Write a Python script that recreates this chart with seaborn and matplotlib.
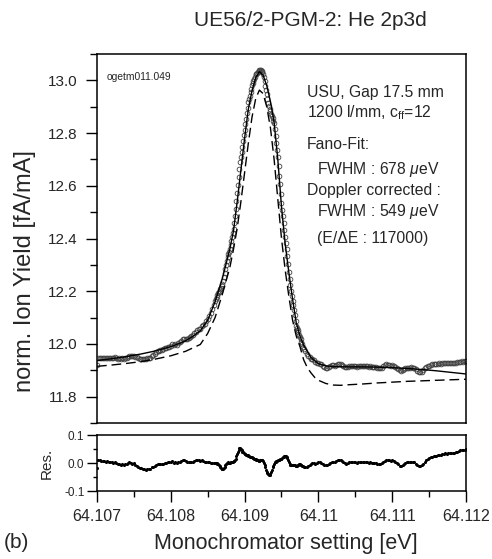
import numpy as np
import matplotlib
matplotlib.use("Agg")
import matplotlib.pyplot as plt
from matplotlib.ticker import MultipleLocator, FixedLocator, FixedFormatter
import seaborn as sns

# scan positions in micro-eV above 64.107 eV (finer steps across the line)
E0 = 64.107
scan_uev = list(range(0, 1601, 20)) + list(range(1610, 2801, 10)) + list(range(2820, 5001, 20))

# measured ion yield [fA/mA]
ion_yield = [
    11.919, 11.947, 11.948, 11.946, 11.948, 11.947, 11.945, 11.948, 11.946, 11.947,
    11.946, 11.945, 11.949, 11.945, 11.944, 11.946, 11.943, 11.946, 11.943, 11.946,
    11.948, 11.952, 11.956, 11.956, 11.954, 11.956, 11.952, 11.949, 11.946, 11.944,
    11.943, 11.941, 11.941, 11.942, 11.945, 11.948, 11.948, 11.954, 11.959, 11.963,
    11.968, 11.972, 11.974, 11.977, 11.976, 11.980, 11.985, 11.985, 11.990, 11.990,
    11.994, 11.998, 11.995, 11.998, 11.997, 12.002, 12.007, 12.013, 12.018, 12.019,
    12.020, 12.019, 12.021, 12.027, 12.029, 12.032, 12.040, 12.047, 12.054, 12.055,
    12.056, 12.068, 12.073, 12.077, 12.086, 12.094, 12.106, 12.118, 12.132, 12.147,
    12.161,
    # 10 ueV steps
    12.170, 12.178, 12.185, 12.192, 12.197, 12.202, 12.207, 12.213, 12.220, 12.227,
    12.239, 12.254, 12.270, 12.286, 12.301, 12.315, 12.328, 12.340, 12.350, 12.360,
    12.376, 12.391, 12.406, 12.421, 12.436, 12.460, 12.485, 12.512, 12.542, 12.572,
    12.604, 12.635, 12.664, 12.690, 12.711, 12.730, 12.749, 12.770, 12.791, 12.813,
    12.833, 12.854, 12.875, 12.895, 12.916, 12.928, 12.941, 12.955, 12.968, 12.981,
    12.989, 12.998, 13.006, 13.014, 13.023, 13.026, 13.029, 13.033, 13.036, 13.041,
    13.039, 13.039, 13.037, 13.033, 13.026, 13.012, 12.996, 12.980, 12.964, 12.949,
    12.931, 12.915, 12.901, 12.890, 12.882, 12.872, 12.864, 12.856, 12.847, 12.837,
    12.814, 12.789, 12.763, 12.736, 12.709, 12.674, 12.639, 12.605, 12.570, 12.536,
    12.510, 12.484, 12.458, 12.432, 12.405, 12.383, 12.359, 12.333, 12.304, 12.274,
    12.248, 12.224, 12.202, 12.182, 12.163, 12.146, 12.128, 12.108, 12.088, 12.069,
    12.060, 12.052, 12.044, 12.035, 12.025, 12.017, 12.008, 11.999, 11.990, 11.982,
    # 20 ueV steps
    11.972, 11.963, 11.955, 11.949, 11.944, 11.942, 11.939, 11.931, 11.929, 11.927,
    11.925, 11.923, 11.917, 11.913, 11.910, 11.910, 11.914, 11.916, 11.919, 11.919,
    11.918, 11.921, 11.924, 11.925, 11.924, 11.920, 11.916, 11.912, 11.911, 11.913,
    11.916, 11.918, 11.917, 11.918, 11.916, 11.914, 11.915, 11.915, 11.916, 11.915,
    11.917, 11.917, 11.916, 11.914, 11.915, 11.914, 11.913, 11.913, 11.911, 11.909,
    11.908, 11.908, 11.910, 11.915, 11.919, 11.922, 11.921, 11.919, 11.918, 11.919,
    11.917, 11.913, 11.909, 11.904, 11.900, 11.898, 11.901, 11.905, 11.907, 11.909,
    11.910, 11.910, 11.911, 11.908, 11.907, 11.903, 11.897, 11.894, 11.892, 11.895,
    11.900, 11.907, 11.912, 11.917, 11.918, 11.920, 11.922, 11.924, 11.922, 11.924,
    11.925, 11.927, 11.925, 11.927, 11.928, 11.928, 11.927, 11.928, 11.929, 11.928,
    11.926, 11.928, 11.929, 11.930, 11.931, 11.933, 11.934, 11.932, 11.935, 11.936,
]

# fit residuals
residual = [
    -0.018, 0.009, 0.010, 0.007, 0.008, 0.006, 0.004, 0.006, 0.003, 0.004,
    0.002, 0.000, 0.003, -0.001, -0.003, -0.002, -0.006, -0.004, -0.007, -0.005,
    -0.004, -0.001, 0.002, 0.001, -0.002, -0.001, -0.006, -0.010, -0.014, -0.017,
    -0.019, -0.022, -0.023, -0.024, -0.022, -0.020, -0.021, -0.016, -0.013, -0.010,
    -0.006, -0.004, -0.003, -0.002, -0.004, -0.002, 0.001, 0.000, 0.003, 0.002,
    0.004, 0.006, 0.001, 0.002, -0.001, 0.002, 0.005, 0.008, 0.011, 0.009,
    0.008, 0.004, 0.002, 0.005, 0.003, 0.003, 0.007, 0.010, 0.012, 0.009,
    0.006, 0.010, 0.007, 0.003, 0.004, 0.004, 0.002, 0.000, 0.000, 0.001,
    0.001,
    0.001, 0.000, -0.002, -0.004, -0.008, -0.012, -0.016, -0.019, -0.021, -0.023,
    -0.022, -0.018, -0.013, -0.008, -0.004, -0.001, 0.001, 0.002, 0.001, 0.000,
    0.002, 0.003, 0.004, 0.005, 0.006, 0.008, 0.011, 0.016, 0.024, 0.032,
    0.040, 0.047, 0.052, 0.054, 0.051, 0.046, 0.041, 0.038, 0.035, 0.033,
    0.031, 0.030, 0.029, 0.027, 0.026, 0.024, 0.023, 0.023, 0.022, 0.021,
    0.019, 0.018, 0.016, 0.014, 0.013, 0.011, 0.010, 0.009, 0.008, 0.008,
    0.009, 0.011, 0.012, 0.010, 0.006, 0.000, -0.008, -0.016, -0.024, -0.031,
    -0.037, -0.041, -0.043, -0.042, -0.038, -0.032, -0.024, -0.016, -0.009, -0.003,
    0.002, 0.005, 0.007, 0.008, 0.009, 0.010, 0.011, 0.013, 0.014, 0.016,
    0.018, 0.020, 0.022, 0.024, 0.025, 0.025, 0.023, 0.019, 0.012, 0.004,
    -0.002, -0.006, -0.008, -0.008, -0.007, -0.006, -0.006, -0.008, -0.010, -0.011,
    -0.010, -0.008, -0.006, -0.005, -0.005, -0.006, -0.008, -0.010, -0.012, -0.013,
    -0.014, -0.013, -0.012, -0.008, -0.004, -0.001, 0.000, -0.003, -0.001, 0.002,
    0.002, 0.001, -0.003, -0.006, -0.007, -0.006, -0.002, 0.001, 0.004, 0.005,
    0.004, 0.007, 0.010, 0.011, 0.010, 0.006, 0.002, -0.001, -0.002, 0.000,
    0.003, 0.005, 0.004, 0.005, 0.003, 0.001, 0.002, 0.002, 0.003, 0.002,
    0.004, 0.004, 0.003, 0.001, 0.002, 0.001, 0.000, 0.001, -0.001, -0.003,
    -0.004, -0.004, -0.001, 0.004, 0.008, 0.011, 0.010, 0.009, 0.008, 0.009,
    0.007, 0.004, 0.000, -0.005, -0.009, -0.010, -0.007, -0.003, 0.000, 0.002,
    0.003, 0.004, 0.005, 0.003, 0.002, -0.002, -0.007, -0.010, -0.011, -0.008,
    -0.002, 0.005, 0.011, 0.016, 0.018, 0.020, 0.023, 0.025, 0.024, 0.026,
    0.028, 0.030, 0.029, 0.031, 0.033, 0.034, 0.033, 0.035, 0.036, 0.036,
    0.035, 0.037, 0.039, 0.040, 0.042, 0.045, 0.046, 0.045, 0.048, 0.050,
]

# Fano fit (solid)
fit_uev = [0, 200, 400, 600, 800, 1000, 1100, 1200, 1300, 1400, 1500, 1600,
           1700, 1800, 1850, 1900, 1950, 2000, 2050, 2100, 2150, 2200, 2250,
           2300, 2350, 2400, 2450, 2500, 2550, 2600, 2650, 2700, 2750, 2800,
           2900, 3000, 3100, 3200, 3400, 3600, 3800, 4000, 4200, 4400, 4600,
           4800, 5000]
fano_fit = [11.937, 11.944, 11.952, 11.962, 11.974, 11.990, 12.000, 12.012,
            12.029, 12.050, 12.090, 12.160, 12.250, 12.360, 12.430, 12.540,
            12.660, 12.780, 12.890, 12.960, 13.010, 13.033, 13.020, 12.980,
            12.920, 12.840, 12.700, 12.520, 12.380, 12.270, 12.170, 12.080,
            12.030, 11.995, 11.948, 11.925, 11.917, 11.914, 11.913, 11.913,
            11.912, 11.910, 11.907, 11.903, 11.898, 11.892, 11.886]

# Doppler corrected profile (dashed)
doppler_uev = [0, 200, 400, 600, 800, 1000, 1200, 1400, 1500, 1600, 1700, 1800,
               1850, 1900, 1950, 2000, 2050, 2100, 2150, 2200, 2250, 2300, 2350,
               2400, 2450, 2500, 2550, 2600, 2650, 2700, 2750, 2800, 2850, 2900,
               2950, 3000, 3100, 3200, 3300, 3400, 3600, 3800, 4000, 4200, 4400,
               4600, 4800, 5000]
doppler_fit = [11.915, 11.920, 11.926, 11.933, 11.943, 11.955, 11.972, 11.998,
               12.040, 12.100, 12.190, 12.290, 12.360, 12.440, 12.540, 12.650,
               12.760, 12.860, 12.930, 12.963, 12.950, 12.900, 12.820, 12.700,
               12.550, 12.400, 12.280, 12.180, 12.090, 12.030, 11.990, 11.940,
               11.910, 11.890, 11.873, 11.862, 11.850, 11.844, 11.843, 11.845,
               11.848, 11.852, 11.855, 11.858, 11.860, 11.862, 11.864, 11.866]

x_ticks = [64.107, 64.108, 64.109, 64.110, 64.111, 64.112]
x_ticklabels = ["64.107", "64.108", "64.109", "64.11", "64.111", "64.112"]
y_ticks = [11.8, 12.0, 12.2, 12.4, 12.6, 12.8, 13.0]
res_ticks = [-0.1, 0.0, 0.1]
res_ticklabels = ["-0.1", "0.0", "0.1"]

energy = E0 + np.array(scan_uev) * 1e-6
fit_e = E0 + np.array(fit_uev) * 1e-6
dop_e = E0 + np.array(doppler_uev) * 1e-6

sns.set_style("ticks")
plt.rcParams['font.family'] = ['Liberation Sans', 'DejaVu Sans']
plt.rcParams['mathtext.fontset'] = 'custom'
plt.rcParams['mathtext.rm'] = 'Liberation Sans'
plt.rcParams['mathtext.it'] = 'Liberation Sans:italic'
plt.rcParams['axes.unicode_minus'] = False

W, H = 492, 559
fig = plt.figure(figsize=(W / 100, H / 100), dpi=100)
ax = fig.add_axes([97 / W, 1 - 423 / H, 369 / W, 369 / H])
rax = fig.add_axes([97 / W, 1 - 491 / H, 369 / W, 56 / H])

# main panel
sns.lineplot(x=energy, y=ion_yield, ax=ax, marker='o', linestyle='', markersize=3.4,
             markerfacecolor='none', markeredgecolor='0.25', markeredgewidth=0.6,
             estimator=None, sort=False, zorder=2)
sns.lineplot(x=fit_e, y=fano_fit, ax=ax, color='black', linewidth=1.0,
             estimator=None, sort=False, zorder=3)
sns.lineplot(x=dop_e, y=doppler_fit, ax=ax, color='black', linewidth=1.0,
             linestyle=(0, (7, 3.5)), estimator=None, sort=False, zorder=3)

ax.set_xlim(64.107, 64.112)
ax.set_ylim(11.7, 13.1)
ax.yaxis.set_major_locator(FixedLocator(y_ticks))
ax.yaxis.set_minor_locator(MultipleLocator(0.1))
ax.yaxis.set_major_formatter(FixedFormatter([f"{v:.1f}" for v in y_ticks]))
ax.tick_params(axis='x', which='both', bottom=False, labelbottom=False)
ax.tick_params(axis='y', which='major', length=8, width=1.0, direction='out',
               labelsize=11, pad=6, color='black')
ax.tick_params(axis='y', which='minor', length=5, width=1.0, direction='out', color='black')
ax.set_xlabel('')
ax.set_ylabel('')

# residual panel
sns.scatterplot(x=energy, y=residual, ax=rax, s=5, color='black', linewidth=0)
rax.set_xlim(64.107, 64.112)
rax.set_ylim(-0.1, 0.1)
rax.xaxis.set_major_locator(FixedLocator(x_ticks))
rax.xaxis.set_major_formatter(FixedFormatter(x_ticklabels))
rax.xaxis.set_minor_locator(MultipleLocator(0.0005))
rax.yaxis.set_major_locator(FixedLocator(res_ticks))
rax.yaxis.set_major_formatter(FixedFormatter(res_ticklabels))
rax.yaxis.set_minor_locator(FixedLocator([-0.05, 0.05]))
rax.tick_params(axis='x', which='major', length=8, width=1.0, labelsize=11.5,
                pad=5, color='black')
rax.tick_params(axis='x', which='minor', length=4, width=1.0, color='black')
rax.tick_params(axis='y', which='major', length=7, width=1.0, labelsize=8.5,
                pad=2, color='black')
rax.tick_params(axis='y', which='minor', length=3, width=1.0, color='black')
rax.set_xlabel('')
rax.set_ylabel('')

for a in (ax, rax):
    for s in a.spines.values():
        s.set_visible(True)
        s.set_color('black')
        s.set_linewidth(1.1)

# annotations
ax.text(0.027, 0.938, 'ogetm011.049', transform=ax.transAxes, fontsize=7.4,
        ha='left', va='center')
info = [
    (0.569, 0.897, 'USU, Gap 17.5 mm'),
    (0.569, 0.840, '1200 l/mm, c$_{\\mathrm{ff}}$=12'),
    (0.569, 0.756, 'Fano-Fit:'),
    (0.596, 0.688, 'FWHM : 678 $\\mu$eV'),
    (0.569, 0.629, 'Doppler corrected :'),
    (0.596, 0.572, 'FWHM : 549 $\\mu$eV'),
    (0.596, 0.501, '(E/\u0394E : 117000)'),
]
for tx, ty, s in info:
    ax.text(tx, ty, s, transform=ax.transAxes, fontsize=11.3, ha='left', va='center')

fig.text(310 / W, 1 - 21 / H, 'UE56/2-PGM-2: He 2p3d', fontsize=15, ha='center', va='center')
fig.text(25 / W, 1 - 271 / H, 'norm. Ion Yield [fA/mA]', fontsize=17, rotation=90,
         ha='center', va='center')
fig.text(47 / W, 1 - 463 / H, 'Res.', fontsize=11, rotation=90, ha='center', va='center')
fig.text(286 / W, 1 - 543 / H, 'Monochromator setting [eV]', fontsize=15.5,
         ha='center', va='center')
fig.text(4 / W, 1 - 543 / H, '(b)', fontsize=15, ha='left', va='center')

fig.savefig('out.png', dpi=100)
